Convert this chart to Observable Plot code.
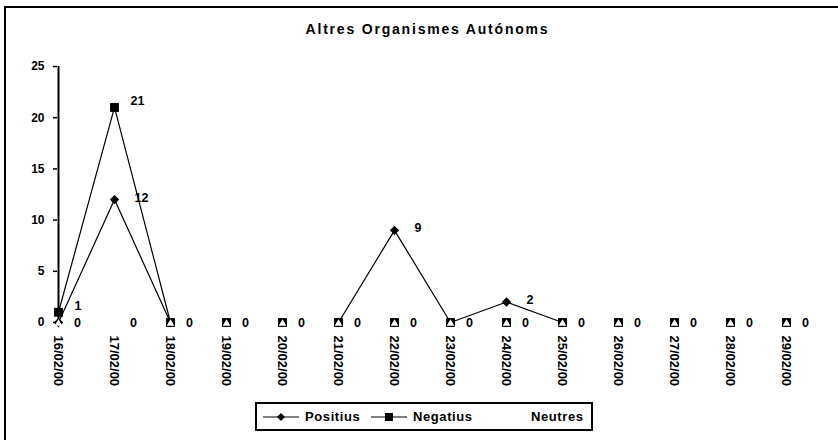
<!DOCTYPE html>
<html>
<head>
<meta charset="utf-8">
<script src="https://cdn.jsdelivr.net/npm/d3@7"></script>
<script src="https://cdn.jsdelivr.net/npm/@observablehq/plot@0.6"></script>
<style>
  html, body { margin: 0; padding: 0; background: #fff; width: 838px; height: 440px; overflow: hidden; }
  body { font-family: "Liberation Sans", Arial, sans-serif; font-weight: bold; position: relative; }
  #frame { position: absolute; left: 4px; top: 6px; width: 900px; height: 500px; border: 2px solid #000; box-sizing: border-box; }
  #title { position: absolute; left: 0; width: 855px; top: 21px; text-align: center; font-size: 14px; font-weight: bold; letter-spacing: 1.8px; }
  #chart { position: absolute; left: 0; top: 0; }
  #legend { position: absolute; left: 255px; top: 402px; width: 338px; height: 29px; border: 2px solid #000; box-sizing: border-box; font-size: 13px; letter-spacing: 0.6px; }
  .item { position: absolute; top: 0; height: 25px; display: flex; align-items: center; }
  .item svg { margin-right: 6px; }
</style>
</head>
<body>
<div id="frame"></div>
<div id="title">Altres Organismes Autónoms</div>
<div id="chart"></div>
<div id="legend"></div>
<script>
const dates = ["16/02/00","17/02/00","18/02/00","19/02/00","20/02/00","21/02/00","22/02/00","23/02/00","24/02/00","25/02/00","26/02/00","27/02/00","28/02/00","29/02/00"];
const positius = [0, 12, 0, null, null, 0, 9, 0, 2, 0, null, null, null, null];
const negatius = [1, 21, 0, 0, 0, 0, 0, 0, 0, 0, 0, 0, 0, 0];
const negatiusConnected = [true, true, true, false, false, false, false, false, false, false, false, false, false, false];
const neutres = [0, 0, 0, 0, 0, 0, 0, 0, 0, 0, 0, 0, 0, 0];
const yTicks = [0, 5, 10, 15, 20, 25];
const seriesNames = ["Positius", "Negatius", "Neutres"];

const posData = dates.map((d, i) => ({date: d, v: positius[i]}));
const negData = dates.map((d, i) => ({date: d, v: negatius[i], c: negatiusConnected[i]}));
const neuData = dates.map((d, i) => ({date: d, v: neutres[i]}));

const font = "Liberation Sans, Arial, sans-serif";

const chart = Plot.plot({
  width: 838,
  height: 400,
  marginLeft: 57,
  marginRight: 52,
  marginTop: 66,
  marginBottom: 78,
  style: {fontFamily: font, fontWeight: "bold", fontSize: "12px", background: "transparent", color: "#000"},
  x: {type: "point", domain: dates, padding: 0},
  y: {domain: [0, 25]},
  marks: [
    Plot.axisY({ticks: yTicks, tickSize: 4, tickPadding: 9, label: null, fontSize: 12, fontWeight: "bold", strokeWidth: 1.5}),
    Plot.axisX({tickRotate: 90, tickSize: 0, tickPadding: 13, label: null, fontSize: 13, fontWeight: "bold", style: "letter-spacing:0.6px"}),
    Plot.ruleX([dates[0]], {y1: 0, y2: 25, stroke: "#000", strokeWidth: 2}),
    Plot.line(posData, {x: "date", y: "v", stroke: "#000", strokeWidth: 1.2}),
    Plot.line(negData.filter(d => d.c), {x: "date", y: "v", stroke: "#000", strokeWidth: 1.2}),
    Plot.dot(posData.filter(d => d.v != null), {x: "date", y: "v", symbol: "diamond2", r: 4.2, fill: "#000", stroke: "none"}),
    Plot.dot(negData, {x: "date", y: "v", symbol: "square", r: 5, fill: "#000", stroke: "none"}),
    Plot.dot(neuData, {x: "date", y: "v", symbol: "triangle", r: 2.8, fill: "#fff", stroke: "none", dy: 1}),
    Plot.text(neuData, {x: "date", y: "v", text: d => String(d.v), dx: 19, dy: 0, fontSize: 12.5, fontWeight: "bold", fill: "#000"}),
    Plot.text(posData.filter(d => d.v), {x: "date", y: "v", text: d => String(d.v), dx: 20, dy: -2, textAnchor: "start", fontSize: 12.5, fontWeight: "bold", fill: "#000"}),
    Plot.text(negData.filter(d => d.v), {x: "date", y: "v", text: d => String(d.v), dx: 16, dy: -6, textAnchor: "start", fontSize: 12.5, fontWeight: "bold", fill: "#000"})
  ]
});
document.getElementById("chart").appendChild(chart);

// legend
const legend = document.getElementById("legend");
const swatch = (kind) => {
  if (kind === "Positius") return `<svg width="36" height="10"><line x1="0" y1="5" x2="36" y2="5" stroke="#000" stroke-width="1.2"/><path d="M18 1 L22 5 L18 9 L14 5 Z" fill="#000"/></svg>`;
  if (kind === "Negatius") return `<svg width="36" height="10"><line x1="0" y1="5" x2="36" y2="5" stroke="#000" stroke-width="1.2"/><rect x="14" y="1" width="8" height="8" fill="#000"/></svg>`;
  return `<svg width="36" height="10"></svg>`;
};
const itemLeft = [6, 114, 232];
seriesNames.forEach((n, i) => {
  const el = document.createElement("div");
  el.className = "item";
  el.style.left = itemLeft[i] + "px";
  el.innerHTML = swatch(n) + `<span>${n}</span>`;
  legend.appendChild(el);
});
</script>
</body>
</html>
